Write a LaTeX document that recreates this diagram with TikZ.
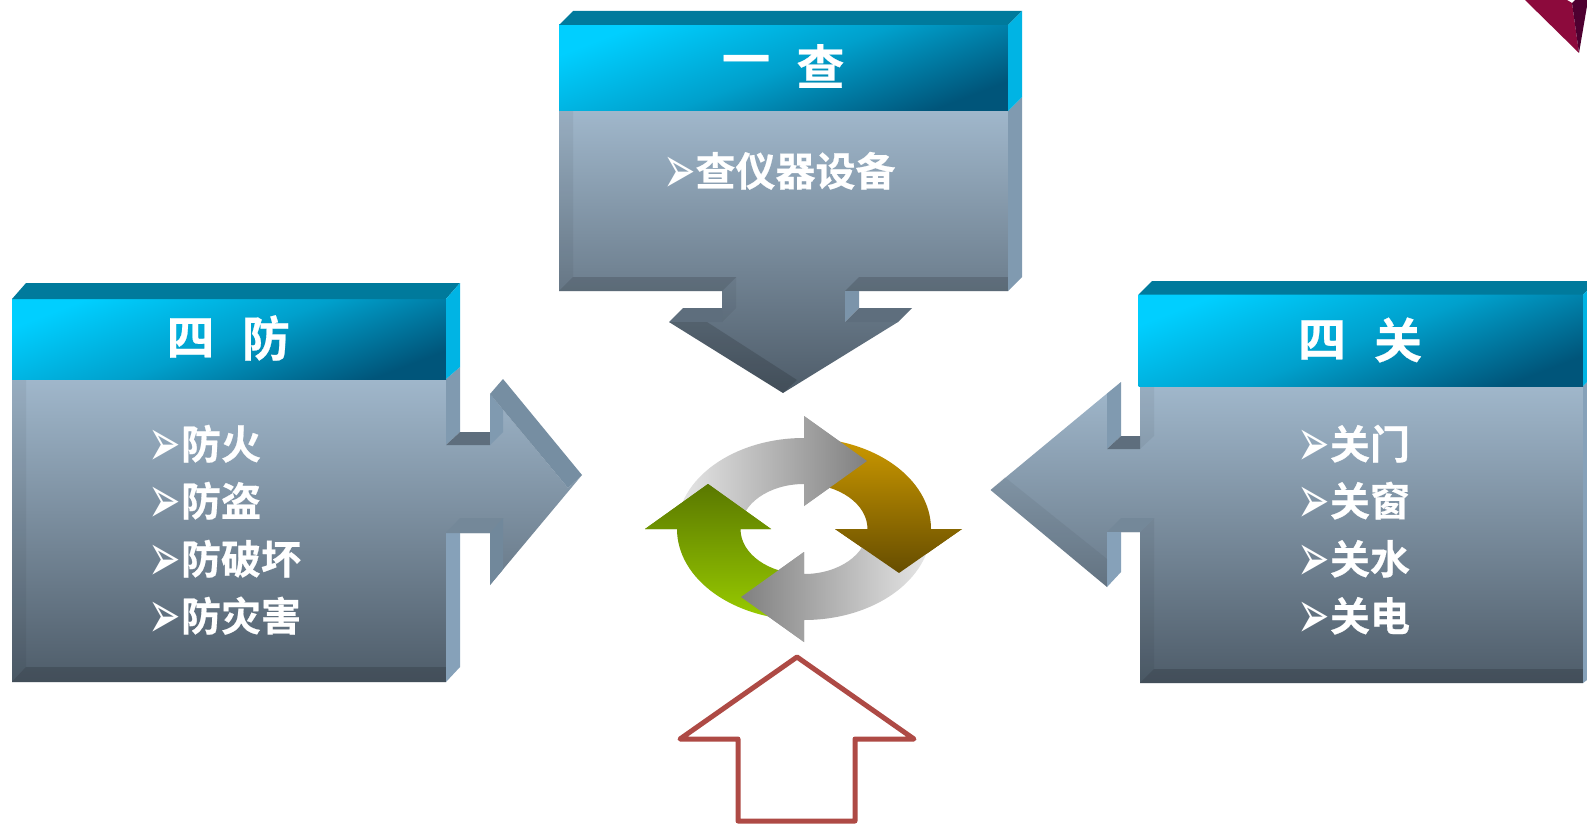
\documentclass[tikz,border=0pt]{standalone}
\usepackage{fontspec}
\setmainfont{Noto Sans CJK SC}[BoldFont={Noto Sans CJK SC Bold},BoldFeatures={FakeBold=0.5}]
\newfontfamily\symfont{DejaVu Sans}
\definecolor{faceT}{HTML}{A0B7CB}
\definecolor{faceB}{HTML}{4E5C69}
\definecolor{arrowred}{HTML}{AE4A45}
\definecolor{ringL}{HTML}{E8E8E8}
\definecolor{ringD}{HTML}{808080}
\definecolor{goldT}{HTML}{CC9900}
\definecolor{goldB}{HTML}{664D00}
\definecolor{greenT}{HTML}{5A7800}
\definecolor{greenB}{HTML}{99CC00}
\definecolor{capC}{HTML}{007A9C}
\definecolor{capS}{HTML}{00B4E4}
\definecolor{sideU}{HTML}{809AB0}
\definecolor{sideB}{HTML}{86A1B9}
\definecolor{notchD}{HTML}{5E6E7D}
\definecolor{notchM}{HTML}{748899}
\definecolor{hdrL}{HTML}{00CFFF}
\definecolor{hdrM}{HTML}{00A0CC}
\definecolor{hdrD}{HTML}{00557A}
\definecolor{cornerA}{HTML}{8C0A3C}
\definecolor{cornerB}{HTML}{4E0030}
\pgfdeclareverticalshading{hdr}{100bp}{%
  color(0bp)=(hdrD);color(25bp)=(hdrD);color(50bp)=(hdrM);color(75bp)=(hdrL);color(100bp)=(hdrL)}
\tikzset{
  every node/.style={inner sep=0pt,outer sep=0pt,text=white,font=\bfseries},
  face/.style={top color=faceT,bottom color=faceB,shading angle=0,draw=none},
  headerfill/.style={draw=none,shading=hdr,shading angle=21},
  bevL/.style={fill=black,fill opacity=.05,draw=none},
  bevD/.style={fill=black,fill opacity=.15,draw=none},
  sideA/.style={fill=#1,draw=none},
  capTop/.style={fill=#1,draw=none},
  titletext/.style={font=\fontsize{48}{48}\selectfont\bfseries},
  itemtext/.style={font=\fontsize{40}{40}\selectfont\bfseries,anchor=west,text height=34pt,text depth=3pt},
  outlinearrow/.style={draw=arrowred,line width=5pt,line join=round,line cap=round},
  arTop/.style={insert path={(677,529) .. controls (677,478.7) and (733.9,438) .. (804,438) -- (804,416) -- (867,461) -- (804,506) -- (804,484) .. controls (768.9,484) and (740.5,504.1) .. (740.5,529) -- cycle}},
  arRight/.style={insert path={(804,438) .. controls (874.1,438) and (931,478.7) .. (931,529) -- (962,529) -- (899,573) -- (835,529) -- (867.5,529) .. controls (867.5,504.1) and (839.1,484) .. (804,484) -- cycle}},
  arBottom/.style={insert path={(931,529) .. controls (931,579.3) and (874.1,620) .. (804,620) -- (804,642) -- (741,597) -- (804,552) -- (804,574) .. controls (839.1,574) and (867.5,553.9) .. (867.5,529) -- cycle}},
  arLeft/.style={insert path={(804,620) .. controls (733.9,620) and (677,579.3) .. (677,529) -- (645,529) -- (708,484) -- (771,529) -- (740.5,529) .. controls (740.5,553.9) and (768.9,574) .. (804,574) -- cycle}},
  shTop/.style={left color=ringL,right color=ringD,draw=none},
  shBottom/.style={left color=ringD,right color=ringL,draw=none},
  shRight/.style={top color=goldT,bottom color=goldB,draw=none},
  shLeft/.style={top color=greenT,bottom color=greenB,draw=none},
}
\newcommand{\itemline}[1]{\makebox[29.5pt][l]{\hspace{-3pt}\smash{\raisebox{-7pt}{\scalebox{1.25}[2.2]{\symfont\fontsize{31}{31}\selectfont ➢}}}}#1}
\begin{document}
\begin{tikzpicture}[x=1pt,y=-1pt]
\useasboundingbox (0,0) rectangle (1587,824);
\fill[white] (0,0) rectangle (1587,824);

% ---------- top box
\path[shade,face] (559,111) -- (1008,111) -- (1008,291) -- (845,291) -- (845,322) -- (898,322) -- (783,393) -- (669,322) -- (722,322) -- (722,291) -- (559,291) -- cycle;
\path[bevL] (559,111) -- (573,111) -- (573,277) -- (559,291) -- cycle;
\path[bevD] (559,291) -- (573,277) -- (736,277) -- (722,291) -- cycle;
\path[bevD] (845,291) -- (859,277) -- (1008,277) -- (1008,291) -- cycle;
\path[bevL] (722,291) -- (736,277) -- (736,308) -- (722,322) -- cycle;
\path[sideA=sideB!92!black] (845,291) -- (859,291) -- (859,308) -- (845,322) -- cycle;
\path[sideA=notchD] (669,322) -- (683,308) -- (722,308) -- (722,322) -- cycle;
\path[sideA=notchD] (845,322) -- (859,308) -- (912,308) -- (898,322) -- cycle;
\path[bevD] (669,322) -- (707,322) -- (797,380) -- (783,393) -- cycle;
\path[sideA=sideU] (1008,111) -- (1022,97) -- (1022,277) -- (1008,291) -- cycle;
\path[shade,headerfill] (559,25) rectangle (1008,111);
\path[capTop=capC] (559,25) -- (573,11) -- (1022,11) -- (1008,25) -- cycle;
\path[capTop=capS] (1008,25) -- (1022,11) -- (1022,97) -- (1008,111) -- cycle;
\node[titletext] (t1a) at (746,66) {一};
\node[titletext] (t1b) at (820.5,66) {查};
\node[itemtext] (i1) at (666,170.5) {\itemline{查仪器设备}};

% ---------- left box
\path[shade,face] (12,379) -- (446,379) -- (446,445) -- (490,445) -- (490,394) -- (568,488) -- (582,475) -- (490,585) -- (490,533) -- (446,533) -- (446,682) -- (12,682) -- cycle;
\path[bevL] (12,379) -- (26,379) -- (26,667) -- (12,682) -- cycle;
\path[bevD] (12,682) -- (26,667) -- (446,667) -- (446,682) -- cycle;
\path[sideA=sideU] (446,379) -- (460,367) -- (460,432) -- (446,445) -- cycle;
\path[sideA=sideB] (446,533) -- (460,533) -- (460,667) -- (446,682) -- cycle;
\path[sideA=notchD] (446,445) -- (460,432) -- (490,432) -- (490,445) -- cycle;
\path[sideA=sideU] (490,445) -- (503,432) -- (503,410) -- (490,394) -- cycle;
\path[sideA=sideU!92!black] (490,394) -- (503,379) -- (582,475) -- (568,488) -- cycle;
\path[sideA=notchM] (446,533) -- (460,518) -- (503,518) -- (490,533) -- cycle;
\path[sideA=sideU!88!black] (490,533) -- (503,518) -- (503,569.5) -- (490,585) -- cycle;
\path[shade,headerfill] (12,299) rectangle (446,379);
\path[capTop=capC] (12,299) -- (26,283) -- (460,283) -- (446,299) -- cycle;
\path[capTop=capS] (446,299) -- (460,283) -- (460,367) -- (446,379) -- cycle;
\node[titletext] (t2a) at (190.5,338) {四};
\node[titletext] (t2b) at (266,338) {防};
\node[itemtext] (i2a) at (151.5,443.5) {\itemline{防火}};
\node[itemtext] (i2b) at (151.5,500.5) {\itemline{防盗}};
\node[itemtext] (i2c) at (151.5,558.5) {\itemline{防破坏}};
\node[itemtext] (i2d) at (151.5,615.5) {\itemline{防灾害}};

% ---------- right box
\path[shade,face] (1140,386) -- (1583,386) -- (1583,683) -- (1140,683) -- (1140,532) -- (1107,532) -- (1107,587) -- (990.5,490) -- (1107,393.5) -- (1107,449) -- (1140,449) -- cycle;
\path[bevL] (1140,386) -- (1154,386) -- (1154,436) -- (1140,449) -- cycle;
\path[bevL] (1140,532) -- (1154,518) -- (1154,669) -- (1140,683) -- cycle;
\path[bevD] (1140,683) -- (1154,669) -- (1583,669) -- (1583,683) -- cycle;
\path[sideA=sideU] (1107,449) -- (1121,436) -- (1121,382) -- (1107,393.5) -- cycle;
\path[sideA=notchD] (1107,449) -- (1121,436) -- (1140,436) -- (1140,449) -- cycle;
\path[sideA=notchM] (1107,532) -- (1121,518) -- (1154,518) -- (1140,532) -- cycle;
\path[sideA=sideB] (1107,532) -- (1121,532) -- (1121,572) -- (1107,587) -- cycle;
\path[bevL] (990.5,490) -- (1004.6,477) -- (1107,559) -- (1107,587) -- cycle;
\path[sideA=sideB] (1583,386) -- (1587,382) -- (1587,680) -- (1583,683) -- cycle;
\path[shade,headerfill] (1138.5,294.5) rectangle (1583,386);
\path[capTop=capC] (1138.5,294.5) -- (1152,281) -- (1587,281) -- (1587,291) -- (1583,294.5) -- cycle;
\path[capTop=capS] (1583,294.5) -- (1587,291) -- (1587,382) -- (1583,386) -- cycle;
\node[titletext] (t3a) at (1322,340) {四};
\node[titletext] (t3b) at (1398,340) {关};
\node[itemtext] (i3a) at (1300.5,443.5) {\itemline{关门}};
\node[itemtext] (i3b) at (1300.5,500.5) {\itemline{关窗}};
\node[itemtext] (i3c) at (1300.5,558.5) {\itemline{关水}};
\node[itemtext] (i3d) at (1300.5,615.5) {\itemline{关电}};

% ---------- cycle arrows
\path[shade,shTop,arTop];
\path[shade,shRight,arRight];
\path[shade,shBottom,arBottom];
\path[shade,shLeft,arLeft];
\begin{scope}\clip (804,416) -- (867,461) -- (804,506) -- cycle; \path[shade,shTop,arTop]; \end{scope}
\begin{scope}\clip (962,529) -- (899,573) -- (835,529) -- cycle; \path[shade,shRight,arRight]; \end{scope}
\begin{scope}\clip (804,642) -- (741,597) -- (804,552) -- cycle; \path[shade,shBottom,arBottom]; \end{scope}
\begin{scope}\clip (645,529) -- (708,484) -- (771,529) -- cycle; \path[shade,shLeft,arLeft]; \end{scope}

% ---------- outline arrow
\path[outlinearrow] (797,657) -- (914,739) -- (855,739) -- (855,821) -- (738,821) -- (738,739) -- (680,739) -- cycle;

% ---------- corner
\fill[cornerA] (1525,0) -- (1567,0) -- (1572,3) -- (1579,53) -- cycle;
\fill[cornerB] (1572,3) -- (1575,0) -- (1587,0) -- (1587,6) -- (1579,53) -- cycle;
\end{tikzpicture}
\end{document}
